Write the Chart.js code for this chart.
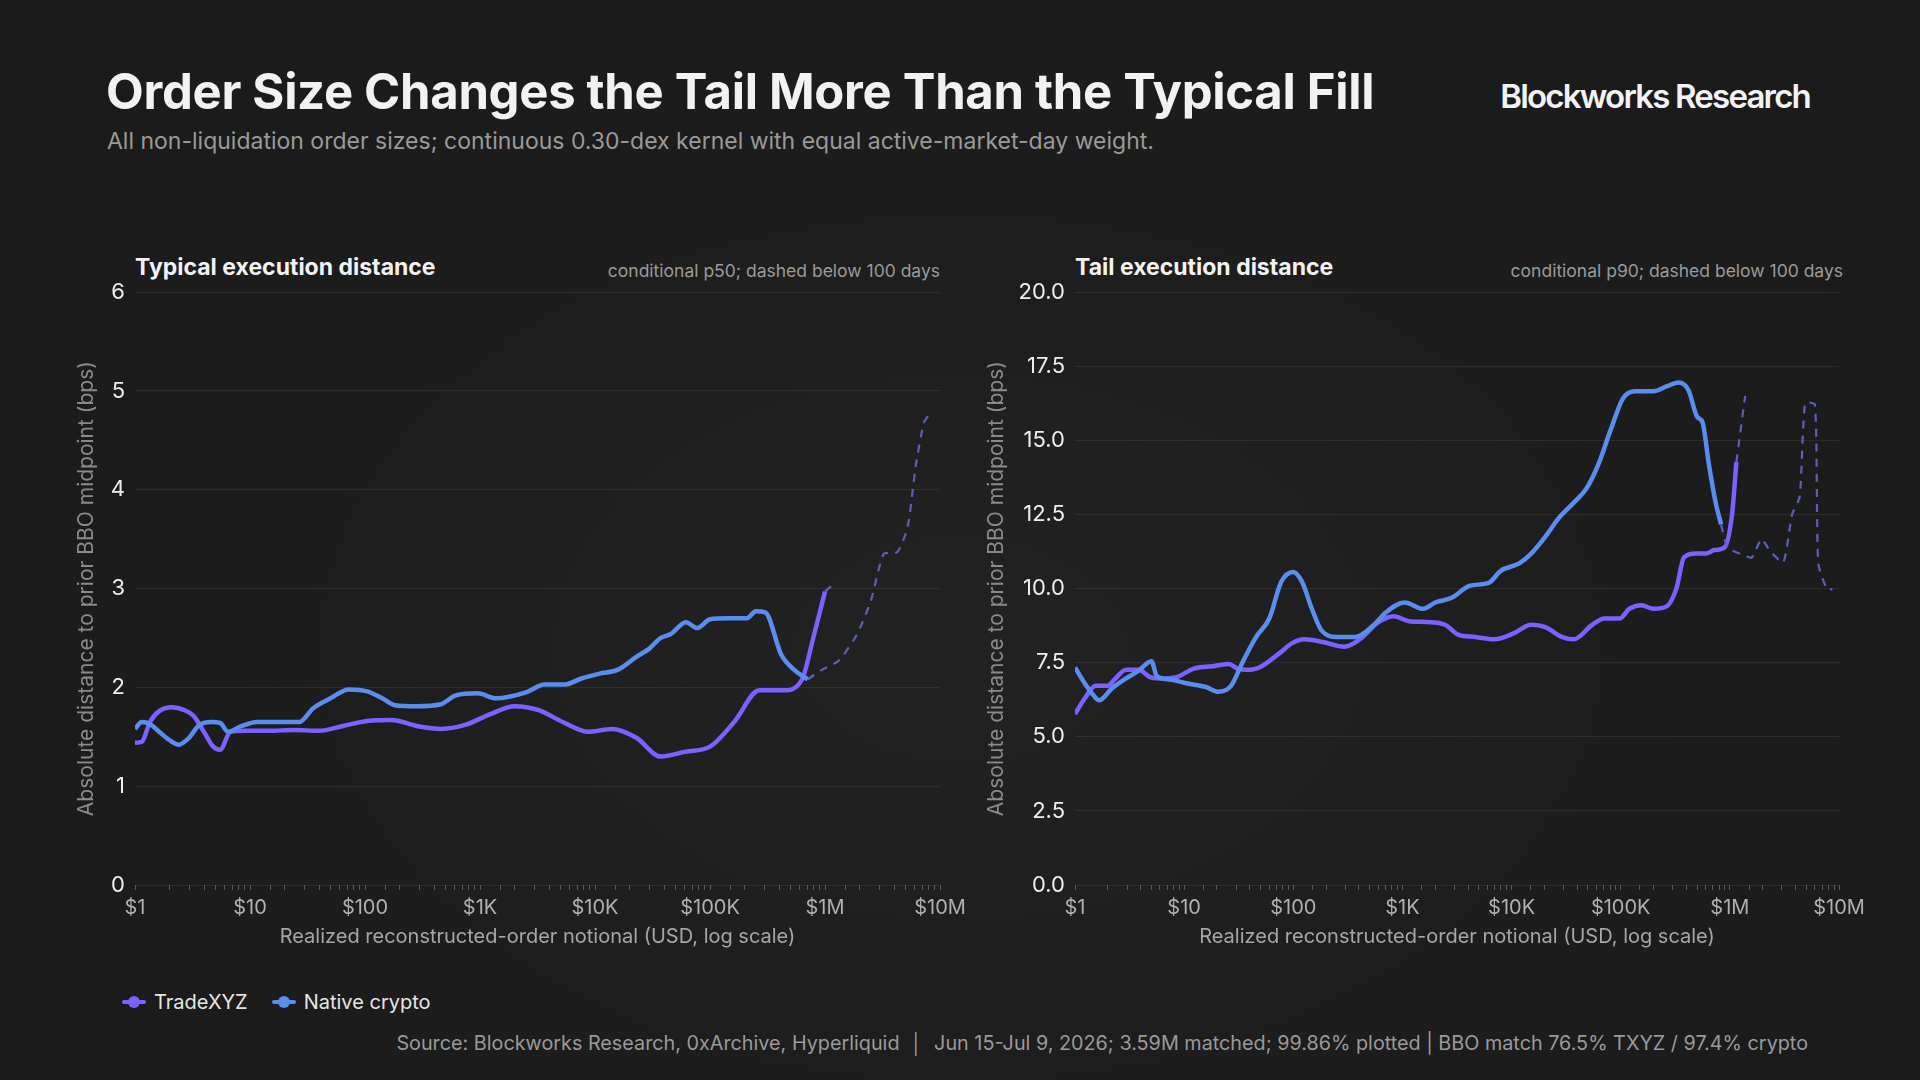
<!DOCTYPE html>
<html>
<head>
<meta charset="utf-8">
<script src="https://cdn.jsdelivr.net/npm/chart.js@4.4.0/dist/chart.umd.min.js"></script>
<style>
  html, body { margin: 0; padding: 0; }
  body { width: 1920px; height: 1080px; overflow: hidden; position: relative;
    background: radial-gradient(ellipse at 50% 60%, #222222 0%, #1c1c1c 60%, #1a1a1a 100%);
    font-family: Inter, "Noto Sans", sans-serif; color: #f2f2f2; }
  .abs { position: absolute; white-space: nowrap; }
  .title { left: 106px; top: 62px; font-size: 49px; font-weight: 700; letter-spacing: -0.3px; }
  .sub { left: 107px; top: 127px; font-size: 23px; color: #9a9a9a; }
  .brand { right: 110px; top: 76px; font-size: 33px; font-weight: 600; letter-spacing: -1.8px; }
  .ptitle { font-size: 23px; font-weight: 700; top: 253px; }
  .pnote { font-size: 17.5px; color: #9a9a9a; top: 260px; }
  .legend { left: 122px; top: 990px; font-size: 20px; color: #e6e6e6; display: flex; gap: 24px; }
  .legend span.it { display: flex; align-items: center; gap: 8px; }
  .mk { position: relative; width: 24px; height: 12px; }
  .mk::before { content: ""; position: absolute; left: 0; right: 0; top: 4px; height: 4px; background: var(--c); border-radius: 2px; }
  .mk::after { content: ""; position: absolute; left: 6px; top: 0; width: 12px; height: 12px; background: var(--c); border-radius: 50%; }
  .source { right: 112px; top: 1031px; font-size: 19.8px; color: #9a9a9a; }
  canvas { position: absolute; }
</style>
</head>
<body>
<div class="abs title">Order Size Changes the Tail More Than the Typical Fill</div>
<div class="abs sub">All non-liquidation order sizes; continuous 0.30-dex kernel with equal active-market-day weight.</div>
<div class="abs brand">Blockworks Research</div>

<div class="abs ptitle" style="left:135px">Typical execution distance</div>
<div class="abs pnote" style="right:980px">conditional p50; dashed below 100 days</div>
<div class="abs ptitle" style="left:1075px">Tail execution distance</div>
<div class="abs pnote" style="right:77px">conditional p90; dashed below 100 days</div>

<div style="position:absolute;left:70px;top:269px;width:910px;height:684px"><canvas id="left"></canvas></div>
<div style="position:absolute;left:980px;top:269px;width:899px;height:684px"><canvas id="right"></canvas></div>

<div class="abs legend">
  <span class="it"><span class="mk" style="--c:#7b61ff"></span>TradeXYZ</span>
  <span class="it"><span class="mk" style="--c:#5b8def"></span>Native crypto</span>
</div>
<div class="abs source">Source: Blockworks Research, 0xArchive, Hyperliquid &nbsp;│&nbsp; Jun 15-Jul 9, 2026; 3.59M matched; 99.86% plotted | BBO match 76.5% TXYZ / 97.4% crypto</div>

<script>
// log10(notional USD) positions and values
const p50TxyzX = [0,0.06,0.13,0.21,0.32,0.43,0.51,0.6,0.68,0.74,0.83,0.96,1.17,1.38,1.6,1.81,2.02,2.23,2.45,2.66,2.87,3.09,3.3,3.51,3.72,3.94,4.15,4.36,4.57,4.79,5.0,5.21,5.43,5.64,5.8,5.9,6.0];
const p50TxyzY = [1.44,1.45,1.65,1.76,1.8,1.77,1.71,1.55,1.4,1.37,1.55,1.56,1.56,1.57,1.56,1.61,1.66,1.67,1.61,1.58,1.62,1.73,1.81,1.77,1.65,1.55,1.58,1.49,1.3,1.35,1.4,1.65,1.97,1.97,2.08,2.51,2.97];
const p50TxyzDashX = [6.0,6.1];
const p50TxyzDashY = [2.97,3.07];
const p50NatX = [0,0.06,0.13,0.21,0.32,0.38,0.47,0.55,0.66,0.74,0.81,0.91,1.06,1.28,1.43,1.55,1.7,1.86,2.02,2.15,2.26,2.45,2.66,2.79,2.98,3.14,3.4,3.56,3.74,3.88,4.04,4.2,4.36,4.47,4.57,4.66,4.79,4.89,5.0,5.16,5.32,5.4,5.48,5.62,5.74,5.85];
const p50NatY = [1.58,1.65,1.63,1.55,1.45,1.42,1.49,1.61,1.65,1.64,1.55,1.6,1.65,1.65,1.65,1.79,1.89,1.98,1.96,1.89,1.82,1.81,1.83,1.92,1.94,1.89,1.95,2.03,2.03,2.09,2.14,2.18,2.31,2.39,2.5,2.54,2.66,2.6,2.69,2.7,2.7,2.77,2.76,2.33,2.17,2.08];
const p50NatDashX = [5.85,5.96,6.12,6.28,6.4,6.51,6.63,6.72,6.79,6.86,6.91];
const p50NatDashY = [2.08,2.17,2.27,2.54,2.88,3.35,3.37,3.63,4.25,4.68,4.77];

const p90TxyzX = [0,0.09,0.19,0.3,0.36,0.47,0.58,0.7,0.81,0.92,1.09,1.26,1.41,1.49,1.6,1.71,1.88,1.99,2.1,2.27,2.47,2.61,2.78,2.92,3.06,3.22,3.39,3.51,3.67,3.84,4.02,4.18,4.31,4.46,4.57,4.74,4.85,4.99,5.08,5.19,5.3,5.42,5.51,5.58,5.69,5.78,5.86,5.95,6.02,6.06];
const p90TxyzY = [5.77,6.3,6.72,6.72,6.93,7.26,7.26,7.0,6.97,7.0,7.3,7.38,7.46,7.3,7.26,7.38,7.84,8.16,8.29,8.2,8.04,8.29,8.87,9.07,8.9,8.87,8.78,8.45,8.37,8.29,8.49,8.78,8.7,8.37,8.29,8.78,8.99,8.99,9.32,9.44,9.32,9.4,10.0,11.05,11.18,11.18,11.3,11.38,12.5,14.27];
const p90TxyzDashX = [6.06,6.14];
const p90TxyzDashY = [14.27,16.5];
const p90NatX = [0,0.09,0.17,0.22,0.34,0.45,0.58,0.7,0.75,0.87,1.03,1.2,1.31,1.43,1.54,1.66,1.78,1.89,2.0,2.08,2.17,2.26,2.4,2.57,2.74,2.85,3.02,3.19,3.3,3.45,3.62,3.79,3.9,4.07,4.18,4.31,4.43,4.57,4.69,4.8,4.91,5.02,5.13,5.3,5.42,5.53,5.62,5.7,5.75,5.81,5.87,5.92];
const p90NatY = [7.34,6.8,6.4,6.23,6.64,6.93,7.22,7.55,7.05,6.93,6.8,6.68,6.52,6.72,7.55,8.37,8.99,10.23,10.56,10.23,9.32,8.58,8.37,8.37,8.78,9.2,9.53,9.32,9.53,9.69,10.1,10.19,10.6,10.85,11.18,11.75,12.37,12.9,13.4,14.23,15.38,16.41,16.66,16.66,16.82,16.95,16.7,15.8,15.6,14.14,12.9,12.16];
const p90NatDashX = [5.92,5.98,6.09,6.2,6.29,6.37,6.49,6.57,6.64,6.69,6.78,6.81,6.89,6.94];
const p90NatDashY = [12.16,11.38,11.18,11.05,11.67,11.26,10.89,12.5,13.1,16.25,16.2,10.85,9.98,9.98];

const xTickLabels = {0:'$1',1:'$10',2:'$100',3:'$1K',4:'$10K',5:'$100K',6:'$1M',7:'$10M'};
const pts = (xs, ys) => xs.map((v, i) => ({ x: Math.pow(10, v), y: ys[i] }));

const PURPLE = '#7b61ff', BLUE = '#5b8def', DASH = '#5a62b8';
const solid = (d, c) => ({ data: d, borderColor: c, borderWidth: 4.5, pointRadius: 0, tension: 0.3, cubicInterpolationMode: 'monotone' });
const dashed = d => ({ data: d, borderColor: DASH, borderWidth: 2.2, borderDash: [8, 7], pointRadius: 0, tension: 0.2 });

function makeChart(id, sets, ymax, step, dec, yW) {
  new Chart(document.getElementById(id), {
    type: 'line',
    data: { datasets: sets },
    options: {
      responsive: true, maintainAspectRatio: false, animation: false,
      layout: { padding: { top: 11, right: 40, left: 0, bottom: 0 } },
      plugins: { legend: { display: false }, tooltip: { enabled: false } },
      scales: {
        x: {
          type: 'logarithmic', min: 1, max: 1e7,
          border: { display: false },
          grid: { drawOnChartArea: false, drawTicks: true, tickLength: 5, color: '#5a5a5a', offset: false },
          ticks: {
            autoSkip: false, maxRotation: 0, color: '#b0b0b0', padding: 6,
            font: { family: 'Inter', size: 20 },
            callback: v => { const l = Math.log10(v); return Math.abs(l - Math.round(l)) < 1e-9 ? xTickLabels[Math.round(l)] : ''; }
          },
          title: { display: true, text: 'Realized reconstructed-order notional (USD, log scale)', color: '#a6a6a6', font: { family: 'Inter', size: 20 }, padding: { top: 0 } },
          afterFit: s => { s.height = 68; }
        },
        y: {
          min: 0, max: ymax,
          border: { display: false },
          grid: { color: 'rgba(255,255,255,0.07)', drawTicks: false },
          ticks: { stepSize: step, color: '#eeeeee', padding: 10, font: { family: 'Inter', size: 22 }, callback: v => v.toFixed(dec) },
          title: { display: true, text: 'Absolute distance to prior BBO midpoint (bps)', color: '#8a8a8a', font: { family: 'Inter', size: 21 }, padding: { bottom: 4 } },
          afterFit: s => { s.width = yW; }
        }
      }
    }
  });
}

makeChart('left', [
  dashed(pts(p50TxyzDashX, p50TxyzDashY)),
  dashed(pts(p50NatDashX, p50NatDashY)),
  solid(pts(p50NatX, p50NatY), BLUE),
  solid(pts(p50TxyzX, p50TxyzY), PURPLE)
], 6, 1, 0, 65);

makeChart('right', [
  dashed(pts(p90TxyzDashX, p90TxyzDashY)),
  dashed(pts(p90NatDashX, p90NatDashY)),
  solid(pts(p90NatX, p90NatY), BLUE),
  solid(pts(p90TxyzX, p90TxyzY), PURPLE)
], 20, 2.5, 1, 95);
</script>
</body>
</html>
